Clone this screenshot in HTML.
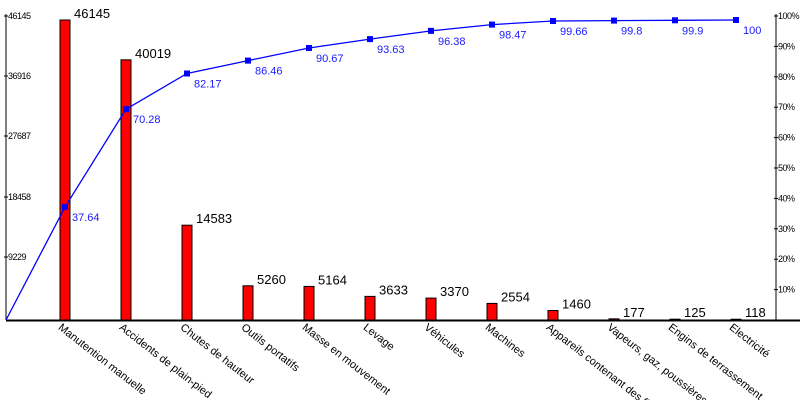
<!DOCTYPE html>
<html><head><meta charset="utf-8"><style>
body{margin:0;background:#fff;overflow:hidden}
svg{display:block;font-family:"Liberation Sans",sans-serif}
</style></head><body>
<svg width="800" height="400" viewBox="0 0 800 400" xmlns="http://www.w3.org/2000/svg">
<rect width="800" height="400" fill="#fff"/>
<line x1="6" y1="14" x2="6" y2="320" stroke="#000"/>
<line x1="776" y1="14" x2="776" y2="320" stroke="#000"/>
<line x1="6" y1="320.5" x2="800" y2="320.5" stroke="#000" stroke-width="2"/>
<g font-size="9" fill="#000" letter-spacing="-0.5">
<line x1="4" y1="16" x2="8" y2="16" stroke="#000"/><text x="8" y="19">46145</text>
<line x1="4" y1="76" x2="8" y2="76" stroke="#000"/><text x="8" y="79">36916</text>
<line x1="4" y1="136" x2="8" y2="136" stroke="#000"/><text x="8" y="139">27687</text>
<line x1="4" y1="197" x2="8" y2="197" stroke="#000"/><text x="8" y="200">18458</text>
<line x1="4" y1="257" x2="8" y2="257" stroke="#000"/><text x="8" y="260">9229</text>
</g>
<g font-size="9" fill="#000" letter-spacing="-0.5" id="r"></g>
<g id="bars"></g>
<g id="line"></g>
<g id="labels" font-size="11" fill="#000"></g>
<script>
(function(){
var vals=[46145,40019,14583,5260,5164,3633,3370,2554,1460,177,125,118];
var pct=[37.64,70.28,82.17,86.46,90.67,93.63,96.38,98.47,99.66,99.8,99.9,100];
var names=["Manutention manuelle","Accidents de plain-pied","Chutes de hauteur","Outils portatifs","Masse en mouvement","Levage","Véhicules","Machines","Appareils contenant des fluides","Vapeurs, gaz, poussières","Engins de terrassement","Electricité"];
var NS="http://www.w3.org/2000/svg";
function el(t,a,p,txt){var e=document.createElementNS(NS,t);for(var k in a)e.setAttribute(k,a[k]);if(txt!=null)e.textContent=txt;document.getElementById(p).appendChild(e);return e;}
for(var k=0;k<10;k++){var y=16+30.4*k;el("line",{x1:774,y1:y,x2:778,y2:y,stroke:"#000"},"r");el("text",{x:778,y:y+3},"r",(100-10*k)+"%");}
var pts="6,320";
for(var i=0;i<12;i++){
 var cx=65+61*i, h=vals[i]/46145*300, bt=320-h;
 el("rect",{x:cx-5,y:bt,width:10,height:h,fill:"#f00",stroke:"#000","stroke-width":1},"bars");
 el("text",{x:cx+9,y:bt-2,"font-size":"13",fill:"#000"},"bars",vals[i]);
 var py=320-pct[i]*3; pts+=" "+cx+","+py;
 el("text",{x:cx+7,y:py+14,"font-size":"11",fill:"#1a1aff"},"line",pct[i]);
 el("text",{x:0,y:0,transform:"translate("+(cx-3)+",323) rotate(38)"},"labels",names[i]).setAttribute("dominant-baseline","hanging");
}
el("polyline",{points:pts,fill:"none",stroke:"#00f","stroke-width":1.3},"line");
pts.split(" ").slice(1).forEach(function(p){var c=p.split(",");el("rect",{x:c[0]-3,y:c[1]-3,width:6,height:6,fill:"#00f"},"line");});
})();
</script>
</svg>
</body></html>
